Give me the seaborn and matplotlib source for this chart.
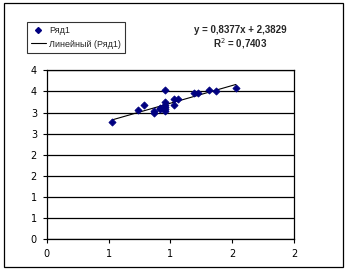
import matplotlib
matplotlib.use("Agg")
import matplotlib.pyplot as plt
import seaborn as sns
import pandas as pd
import numpy as np
from matplotlib.lines import Line2D
from matplotlib.patches import Rectangle

# ---- data ----
x_vals = [0.53, 0.74, 0.79, 0.87, 0.87, 0.92, 0.92, 0.96, 0.96, 0.96, 0.96, 0.96, 0.96,
          1.03, 1.03, 1.06, 1.19, 1.22, 1.31, 1.37, 1.53]
y_vals = [2.77, 3.05, 3.19, 3.00, 3.04, 3.08, 3.11, 3.53, 3.26, 3.19, 3.14, 3.08, 3.03,
          3.33, 3.17, 3.31, 3.46, 3.46, 3.53, 3.50, 3.58]
slope = 0.8377
intercept = 2.3829
r2 = 0.7403
x_ticks = [0, 0.5, 1.0, 1.5, 2.0]
x_tick_labels = ["0", "1", "1", "2", "2"]
y_ticks = [0, 0.5, 1.0, 1.5, 2.0, 2.5, 3.0, 3.5, 4.0]
y_tick_labels = ["0", "1", "1", "2", "2", "3", "3", "4", "4"]
series_name = "Ряд1"
trend_name = "Линейный (Ряд1)"

df = pd.DataFrame({"x": x_vals, "y": y_vals})
tx = np.array([min(x_vals), max(x_vals)])
trend = pd.DataFrame({"x": tx, "y": slope * tx + intercept})

sns.set_theme(style="white")
plt.rcParams["font.family"] = ["DejaVu Sans"]

W, H = 346, 270
fig = plt.figure(figsize=(W / 100, H / 100), dpi=100)
fig.patch.set_facecolor("white")
ax = fig.add_axes([46.7 / W, 1 - 239.3 / H, (294 - 46.7) / W, (239.3 - 70.3) / H])

for yt in y_ticks:
    ax.axhline(yt, color="black", lw=0.9, zorder=1)

sns.lineplot(data=trend, x="x", y="y", ax=ax, color="black", lw=0.8, zorder=2)
sns.scatterplot(data=df, x="x", y="y", ax=ax, marker="D", s=13, color="#000080",
                edgecolor="#000080", linewidth=0.6, zorder=3)

ax.set_xlim(0, 2)
ax.set_ylim(0, 4)
ax.set_xticks(x_ticks)
ax.set_xticklabels(x_tick_labels, fontsize=7)
ax.set_yticks(y_ticks)
ax.set_yticklabels(y_tick_labels, fontsize=7)
ax.set_xlabel("")
ax.set_ylabel("")
ax.tick_params(axis="both", direction="out", length=3, width=0.8, colors="black",
               bottom=True, left=True, pad=4)
for s in ax.spines.values():
    s.set_visible(True)
    s.set_color("black")
    s.set_linewidth(0.9)

handles = [
    Line2D([], [], marker="D", color="#000080", linestyle="None", markersize=3),
    Line2D([], [], color="black", lw=0.8),
]
leg = fig.legend(handles, [series_name, trend_name], loc="upper left",
                 bbox_to_anchor=(27 / W, 1 - 22 / H), borderaxespad=0,
                 prop={"family": "Liberation Sans", "size": 6.5},
                 frameon=True, fancybox=False, handlelength=1.6,
                 handletextpad=0.4, borderpad=0.45, labelspacing=0.5)
leg.get_frame().set_edgecolor("black")
leg.get_frame().set_linewidth(0.8)

fig.text(240 / W, 1 - 30 / H, f"y = {slope:.4f}x + {intercept:.4f}".replace(".", ","),
         ha="center", va="center", fontsize=7, fontweight="bold", family="Liberation Sans")
fig.text(240 / W, 1 - 44 / H, f"R$^2$ = {r2:.4f}".replace(".", ","),
         ha="center", va="center", fontsize=7, fontweight="bold", family="Liberation Sans")

fig.patches.append(Rectangle((4 / W, 1 - 267 / H), 339 / W, 264 / H,
                             transform=fig.transFigure, fill=False,
                             edgecolor="black", lw=0.9))

fig.savefig("out.png", dpi=100, facecolor="white")
